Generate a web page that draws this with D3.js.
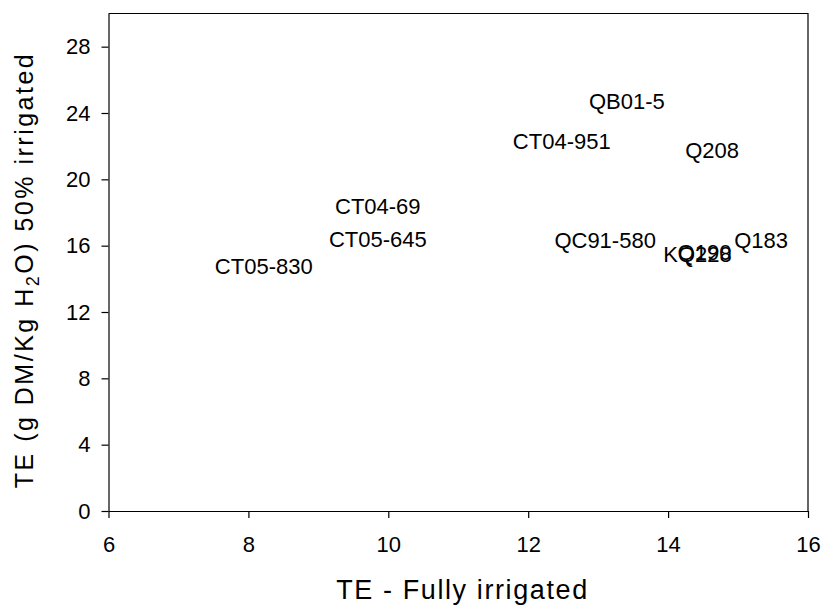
<!DOCTYPE html>
<html>
<head>
<meta charset="utf-8">
<script src="https://cdn.jsdelivr.net/npm/d3@7"></script>
<style>
  body { margin: 0; background: #fff; }
  svg text { font-family: Arial, "Liberation Sans", sans-serif; fill: #000; }
  .axis path, .axis line { stroke: #000; stroke-width: 1.2; }
</style>
</head>
<body>
<svg width="833" height="605"></svg>
<script>
// genotype labels with TE under full and 50% irrigation
var genotypes = ["QB01-5", "CT04-951", "Q208", "CT04-69", "CT05-645", "QC91-580", "Q183", "KQ228", "Q190", "CT05-830"];
var teFull = [13.41, 12.48, 14.63, 9.85, 9.85, 13.10, 15.33, 14.42, 14.52, 8.22];
var teHalf = [24.74, 22.28, 21.77, 18.37, 16.38, 16.36, 16.33, 15.52, 15.64, 14.78];
var xTicks = [6, 8, 10, 12, 14, 16];
var yTicks = [0, 4, 8, 12, 16, 20, 24, 28];

var svg = d3.select("svg");
var margin = {top: 13.5, right: 25, bottom: 94, left: 108.5};
var width = 833 - margin.left - margin.right;
var height = 605 - margin.top - margin.bottom;

var x = d3.scaleLinear().domain([6, 16]).range([0, width]);
var y = d3.scaleLinear().domain([0, 30]).range([height, 0]);

var g = svg.append("g")
    .attr("transform", "translate(" + margin.left + "," + margin.top + ")");

// frame (top and right edges)
g.append("path")
    .attr("d", "M0,0H" + width + "V" + height)
    .attr("fill", "none")
    .attr("stroke", "#000")
    .attr("stroke-width", 1.2);

g.append("g")
    .attr("class", "axis")
    .attr("transform", "translate(0," + height + ")")
    .call(d3.axisBottom(x).tickValues(xTicks).tickSize(7).tickPadding(18).tickSizeOuter(0))
    .attr("font-size", 22)
    .attr("font-family", "Arial, 'Liberation Sans', sans-serif");

g.append("g")
    .attr("class", "axis")
    .call(d3.axisLeft(y).tickValues(yTicks).tickSize(7).tickPadding(11).tickSizeOuter(0))
    .attr("font-size", 22)
    .attr("font-family", "Arial, 'Liberation Sans', sans-serif");

// point labels (labels are the marks)
g.selectAll(".lbl")
    .data(genotypes)
  .enter().append("text")
    .attr("class", "lbl")
    .attr("x", function(d, i) { return x(teFull[i]); })
    .attr("y", function(d, i) { return y(teHalf[i]); })
    .attr("dy", "0.36em")
    .attr("text-anchor", "middle")
    .style("font-size", "22px")
    .text(function(d) { return d; });

// axis titles
svg.append("text")
    .attr("x", 462.5)
    .attr("y", 599)
    .attr("text-anchor", "middle")
    .style("font-size", "27px")
    .style("letter-spacing", "1.6px")
    .text("TE - Fully irrigated");

var yt = svg.append("text")
    .attr("transform", "translate(33,270) rotate(-90)")
    .attr("text-anchor", "middle")
    .style("font-size", "25px")
    .style("letter-spacing", "2.5px");
yt.append("tspan").text("TE (g DM/Kg H");
yt.append("tspan").attr("dy", 6).style("font-size", "18px").text("2");
yt.append("tspan").attr("dy", -6).text("O) 50% irrigated");
</script>
</body>
</html>
